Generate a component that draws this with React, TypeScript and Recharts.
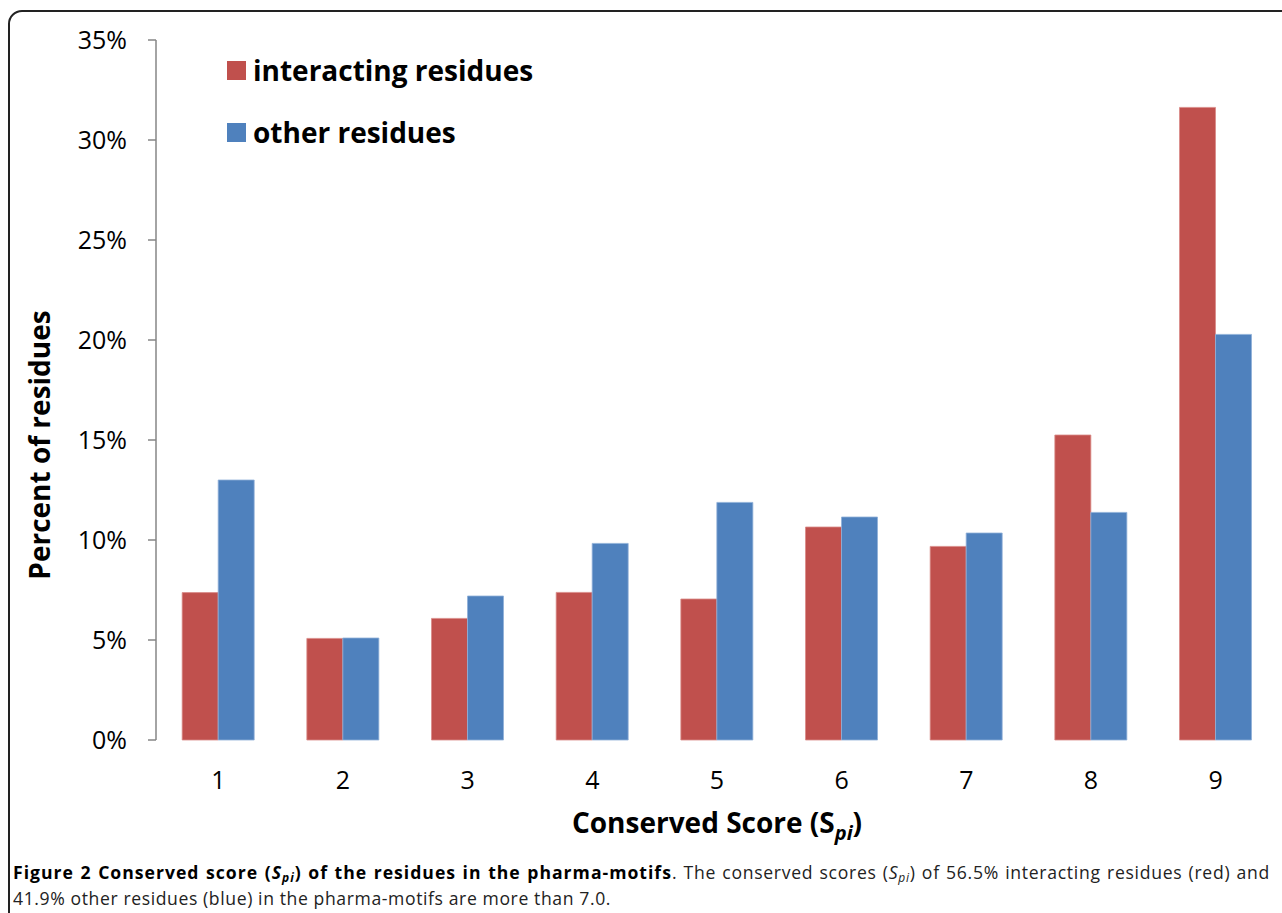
import React from 'react';
import { BarChart, Bar, XAxis, YAxis } from 'recharts';

const scores = ['1', '2', '3', '4', '5', '6', '7', '8', '9'];
const interacting = [7.37, 5.08, 6.08, 7.38, 7.05, 10.65, 9.68, 15.25, 31.63];
const other = [13.0, 5.1, 7.2, 9.83, 11.88, 11.15, 10.35, 11.38, 20.28];
const yTicks = [0, 5, 10, 15, 20, 25, 30, 35];
const boundaryTicks = [0, 1, 2, 3, 4, 5, 6, 7, 8, 9];
const seriesNames = ['interacting residues', 'other residues'];
const seriesColors = ['#C0504D', '#4F81BD'];

const data = scores.map((s, i) => ({ score: s, interacting: interacting[i], other: other[i] }));

const AXIS = '#868686';
const FONT = '"Open Sans", sans-serif';

const LegendBox = () => (
  <div style={{ position: 'absolute', left: 227, top: 39, fontFamily: FONT, fontWeight: 700, fontSize: 28, color: '#000' }}>
    {seriesNames.map((n, i) => (
      <div key={n} style={{ display: 'flex', alignItems: 'center', height: 62 }}>
        <span style={{ width: 19, height: 19, background: seriesColors[i], marginRight: 7, display: 'inline-block' }} />
        <span style={{ lineHeight: 1 }}>{n}</span>
      </div>
    ))}
  </div>
);

const XLabel = (props: any) => {
  const vb = props.viewBox || {};
  return (
    <text x={vb.x + vb.width / 2} y={vb.y + 93} textAnchor="middle" fontFamily={FONT} fontWeight={700} fontSize={28} fill="#000">
      Conserved Score (S
      <tspan fontStyle="italic" fontSize={20} dy={7}>pi</tspan>
      <tspan dy={-7}>)</tspan>
    </text>
  );
};

const YLabel = () => (
  <text x={39} y={445} transform="rotate(-90 39 445)" textAnchor="middle" dominantBaseline="central" fontFamily={FONT} fontWeight={700} fontSize={28} fill="#000">
    Percent of residues
  </text>
);

const sub = { fontSize: 12, verticalAlign: -3 } as React.CSSProperties;

export default function App() {
  return (
    <div style={{ position: 'absolute', left: 0, top: 0, width: 1282, height: 913, overflow: 'hidden', background: '#fff' }}>
      <div style={{ position: 'absolute', left: 8, top: 10, width: 1320, height: 1000, border: '2px solid #222', borderTopLeftRadius: 14, boxSizing: 'border-box' }} />
      <div style={{ position: 'absolute', left: 0, top: 0 }}>
        <BarChart width={1282} height={860} data={data} margin={{ top: 40, right: 4, bottom: 0, left: 0 }} barCategoryGap="21%" barGap={0}>
          <XAxis xAxisId="ticks" type="number" domain={[0, 9]} ticks={boundaryTicks} tick={false} tickSize={8} height={0} axisLine={{ stroke: AXIS, strokeWidth: 1.5 }} tickLine={{ stroke: AXIS, strokeWidth: 1.5 }} allowDataOverflow />
          <XAxis xAxisId="cat" dataKey="score" height={120} axisLine={false} tickLine={false} tickSize={0} tickMargin={31} tick={{ fontFamily: FONT, fontSize: 25, fill: '#000' }} interval={0} label={<XLabel />} />
          <YAxis domain={[0, 35]} ticks={yTicks} width={156} tickFormatter={(v: number) => `${v}%`} tickSize={8} tickMargin={21} axisLine={{ stroke: AXIS, strokeWidth: 1.5 }} tickLine={{ stroke: AXIS, strokeWidth: 1.5 }} tick={{ fontFamily: FONT, fontSize: 25, fill: '#000' }} label={<YLabel />} />
          <Bar xAxisId="cat" dataKey="interacting" name={seriesNames[0]} fill={seriesColors[0]} stroke="#d98a88" strokeWidth={0.8} isAnimationActive={false} />
          <Bar xAxisId="cat" dataKey="other" name={seriesNames[1]} fill={seriesColors[1]} stroke="#8fb0d8" strokeWidth={0.8} isAnimationActive={false} />
        </BarChart>
      </div>
      <LegendBox />
      <div style={{ position: 'absolute', left: 13, top: 862, width: 1257, fontFamily: FONT, fontSize: 17.6, lineHeight: '20px', color: '#222' }}>
        <div style={{ textAlign: 'justify', textAlignLast: 'justify', whiteSpace: 'nowrap' }}>
          <b style={{ color: '#000', letterSpacing: 1.0 }}>Figure 2 Conserved score (<i>S<sub style={sub}>pi</sub></i>) of the residues in the pharma-motifs</b>
          <span style={{ letterSpacing: 0.7 }}>. The conserved scores (<i>S<sub style={sub}>pi</sub></i>) of 56.5% interacting residues (red) and</span>
        </div>
        <div style={{ letterSpacing: 0.6 }}>41.9% other residues (blue) in the pharma-motifs are more than 7.0.</div>
      </div>
    </div>
  );
}
